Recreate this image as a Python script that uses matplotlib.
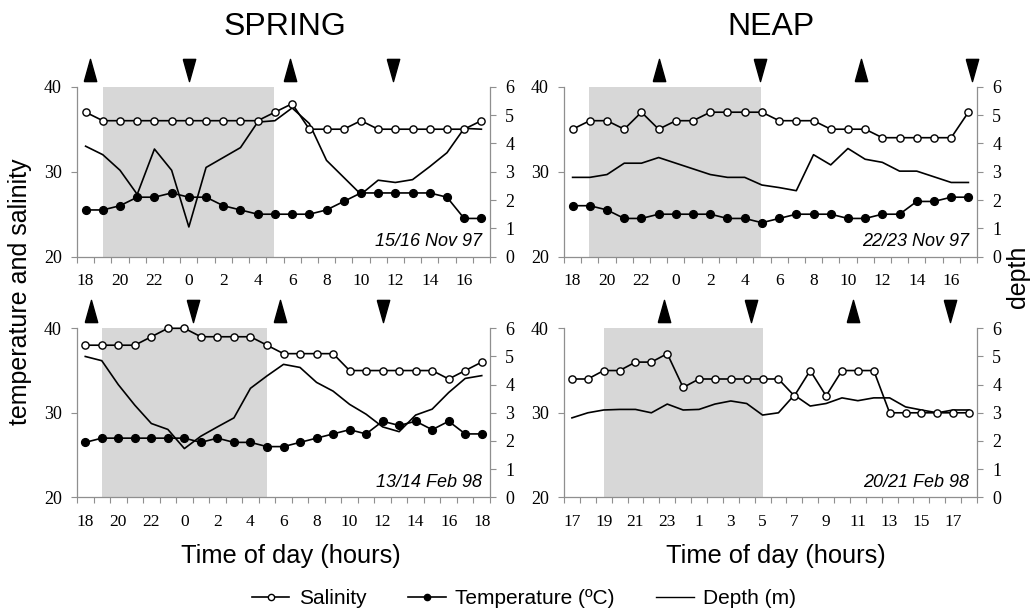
import matplotlib
matplotlib.use("Agg")
import matplotlib.pyplot as plt
from matplotlib.transforms import blended_transform_factory
from matplotlib.lines import Line2D

# ---------------- data ----------------
# Panel A: SPRING, 15/16 Nov 97
hours_a = [18, 19, 20, 21, 22, 23, 0, 1, 2, 3, 4, 5, 6, 7, 8, 9, 10, 11, 12, 13, 14, 15, 16, 17]
sal_a = [37, 36, 36, 36, 36, 36, 36, 36, 36, 36, 36, 37, 38, 35, 35, 35, 36, 35, 35, 35, 35, 35, 35, 36]
temp_a = [25.5, 25.5, 26, 27, 27, 27.5, 27, 27, 26, 25.5, 25, 25, 25, 25, 25.5, 26.5, 27.5, 27.5,
          27.5, 27.5, 27.5, 27, 24.5, 24.5]
depth_a = [3.9, 3.6, 3.05, 2.2, 3.8, 3.05, 1.05, 3.15, 3.5, 3.85, 4.75, 4.8, 5.25, 4.7, 3.4, 2.8,
           2.2, 2.7, 2.62, 2.72, 3.18, 3.67, 4.53, 4.5]
high_a = [0.23, 11.9]
low_a = [6.03, 17.86]
night_a = (1.0, 10.95)
date_a = "15/16 Nov 97"

# Panel B: NEAP, 22/23 Nov 97
hours_b = [18, 19, 20, 21, 22, 23, 0, 1, 2, 3, 4, 5, 6, 7, 8, 9, 10, 11, 12, 13, 14, 15, 16, 17]
sal_b = [35, 36, 36, 35, 37, 35, 36, 36, 37, 37, 37, 37, 36, 36, 36, 35, 35, 35, 34, 34, 34, 34, 34, 37]
temp_b = [26, 26, 25.5, 24.5, 24.5, 25, 25, 25, 25, 24.5, 24.5, 24, 24.5, 25, 25, 25, 24.5, 24.5,
          25, 25, 26.5, 26.5, 27, 27]
depth_b = [2.8, 2.8, 2.9, 3.3, 3.3, 3.5, 3.3, 3.1, 2.9, 2.8, 2.8, 2.53, 2.44, 2.33, 3.6, 3.24,
           3.82, 3.44, 3.33, 3.02, 3.02, 2.82, 2.62, 2.62]
high_b = [5.04, 16.77]
low_b = [10.87, 23.2]
night_b = (0.95, 10.95)
date_b = "22/23 Nov 97"

# Panel C: SPRING, 13/14 Feb 98
hours_c = [18, 19, 20, 21, 22, 23, 0, 1, 2, 3, 4, 5, 6, 7, 8, 9, 10, 11, 12, 13, 14, 15, 16, 17, 18]
sal_c = [38, 38, 38, 38, 39, 40, 40, 39, 39, 39, 39, 38, 37, 37, 37, 37, 35, 35, 35, 35, 35, 35, 34, 35, 36]
temp_c = [26.5, 27, 27, 27, 27, 27, 27, 26.5, 27, 26.5, 26.5, 26, 26, 26.5, 27, 27.5, 28, 27.5,
          29, 28.5, 29, 28, 29, 27.5, 27.5]
depth_c = [5.0, 4.85, 4.0, 3.27, 2.62, 2.41, 1.73, 2.17, 2.5, 2.82, 3.87, 4.31, 4.72, 4.61, 4.08,
           3.77, 3.3, 2.95, 2.5, 2.33, 2.92, 3.13, 3.72, 4.22, 4.32]
high_c = [0.36, 11.8]
low_c = [6.5, 18.0]
night_c = (1.0, 11.0)
date_c = "13/14 Feb 98"

# Panel D: NEAP, 20/21 Feb 98 (no temperature)
hours_d = [17, 18, 19, 20, 21, 22, 23, 0, 1, 2, 3, 4, 5, 6, 7, 8, 9, 10, 11, 12, 13, 14, 15, 16, 17, 18]
sal_d = [34, 34, 35, 35, 36, 36, 37, 33, 34, 34, 34, 34, 34, 34, 32, 35, 32, 35, 35, 35,
         30, 30, 30, 30, 30, 30]
temp_d = None
depth_d = [2.82, 3.0, 3.1, 3.12, 3.12, 3.0, 3.31, 3.1, 3.12, 3.31, 3.42, 3.33, 2.92, 3.0, 3.63,
           3.24, 3.33, 3.53, 3.43, 3.53, 3.53, 3.21, 3.1, 3.0, 3.1, 3.1]
high_d = [5.77, 17.67]
low_d = [11.28, 23.82]
night_d = (2.0, 12.0)
date_d = "20/21 Feb 98"

left_ticks = [20, 30, 40]
right_ticks = [0, 1, 2, 3, 4, 5, 6]

# ---------------- style ----------------
SANS = "Liberation Sans"
SERIF = "Liberation Serif"
GRAY = "#8f8f8f"
SHADE = "#d7d7d7"

W, H = 1031, 613
fig = plt.figure(figsize=(W / 100, H / 100), dpi=100)


def fx(px):
    return px / W


def fy(py):
    return 1 - py / H


def panel(rect_px, hours, sal, temp, depth, high, low, night, date):
    x0, y0, x1, y1 = rect_px
    ax = fig.add_axes([fx(x0), fy(y1), fx(x1 - x0), (y1 - y0) / H])
    ax2 = ax.twinx()
    ax.set_zorder(ax2.get_zorder() + 1)
    ax.patch.set_visible(False)
    n = len(hours)
    idx = list(range(n))
    ax2.axvspan(night[0], night[1], color=SHADE, lw=0, zorder=0)
    ax2.plot(idx, depth, color="black", lw=1.2, zorder=2)
    ax.plot(idx, sal, color="black", lw=1.2, marker="o", ms=5.2, mfc="white",
            mec="black", mew=1.0, zorder=3, clip_on=False)
    if temp is not None:
        ax.plot(idx, temp, color="black", lw=1.2, marker="o", ms=5.6, mfc="black",
                mec="black", zorder=3, clip_on=False)
    ax.set_xlim(-0.5, n - 0.5)
    ax2.set_xlim(-0.5, n - 0.5)
    ax.set_ylim(20, 40)
    ax2.set_ylim(0, 6)
    # ticks
    ax.set_yticks(left_ticks)
    ax2.set_yticks(right_ticks)
    ax.set_xticks([i - 0.5 for i in range(n + 1)])
    ax.set_xticklabels([])
    lab_pos = [i for i in idx if i % 2 == 0]
    ax.set_xticks(lab_pos, minor=True)
    ax.set_xticklabels([str(hours[i]) for i in lab_pos], minor=True)
    ax.tick_params(axis="x", which="major", direction="out", length=4.5, width=0.8, color=GRAY)
    ax.tick_params(axis="x", which="minor", length=0, pad=12, labelsize=12.5)
    ax.tick_params(axis="y", direction="out", length=4, width=0.8, color=GRAY, pad=7, labelsize=13)
    ax2.tick_params(axis="y", direction="out", length=4, width=0.8, color=GRAY, pad=7, labelsize=13)
    for lab in ax.get_xticklabels(minor=True) + ax.get_yticklabels() + ax2.get_yticklabels():
        lab.set_fontfamily(SERIF)
    for a in (ax, ax2):
        for s in a.spines.values():
            s.set_color(GRAY)
            s.set_linewidth(0.9)
        a.spines["top"].set_visible(False)
    ax.spines["right"].set_visible(False)
    ax2.spines["left"].set_visible(False)
    ax2.spines["bottom"].set_visible(False)
    # tide triangles
    tr = blended_transform_factory(ax.transData, ax.transAxes)
    up = [(-0.28, -0.5), (0.28, -0.5), (0.0, 0.5), (-0.28, -0.5)]
    dn = [(-0.28, 0.5), (0.28, 0.5), (0.0, -0.5), (-0.28, 0.5)]
    ax.plot(high, [1.1] * len(high), ls="none", marker=up, ms=16, color="black",
            transform=tr, clip_on=False)
    ax.plot(low, [1.1] * len(low), ls="none", marker=dn, ms=16, color="black",
            transform=tr, clip_on=False)
    ax.text(0.98, 0.09, date, transform=ax.transAxes, ha="right", va="center",
            fontsize=13, style="italic", family=SANS)
    return ax


panel((77, 86.7, 490, 256.7), hours_a, sal_a, temp_a, depth_a, high_a, low_a, night_a, date_a)
panel((564, 86.7, 977, 256.7), hours_b, sal_b, temp_b, depth_b, high_b, low_b, night_b, date_b)
panel((77, 328.3, 490, 497.3), hours_c, sal_c, temp_c, depth_c, high_c, low_c, night_c, date_c)
panel((564, 328.3, 977, 497.3), hours_d, sal_d, temp_d, depth_d, high_d, low_d, night_d, date_d)

# titles and labels
fig.text(fx(285), fy(27), "SPRING", ha="center", va="center", fontsize=23, family=SANS)
fig.text(fx(771), fy(27), "NEAP", ha="center", va="center", fontsize=23, family=SANS)
fig.text(fx(291), fy(556), "Time of day (hours)", ha="center", va="center", fontsize=18.3, family=SANS)
fig.text(fx(776), fy(556), "Time of day (hours)", ha="center", va="center", fontsize=18.3, family=SANS)
fig.text(fx(20), fy(292), "temperature and salinity", ha="center", va="center", rotation=90,
         fontsize=18, family=SANS)
fig.text(fx(1018), fy(277), "depth", ha="center", va="center", rotation=90,
         fontsize=18, family=SANS)

handles = [
    Line2D([], [], color="black", lw=1.2, marker="o", ms=4.5, mfc="white", mec="black"),
    Line2D([], [], color="black", lw=1.2, marker="o", ms=4.5, mfc="black", mec="black"),
    Line2D([], [], color="black", lw=1.0),
]
fig.legend(handles, ["Salinity", "Temperature (ºC)", "Depth (m)"], loc="center",
           bbox_to_anchor=(fx(524), fy(599)), ncol=3, frameon=False,
           prop={"family": SANS, "size": 15}, handlelength=1.8, handletextpad=0.45,
           columnspacing=2.0)

fig.savefig("out.png", dpi=100)
